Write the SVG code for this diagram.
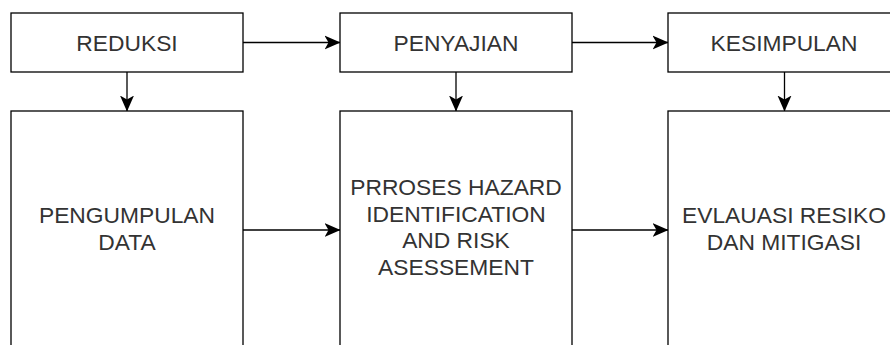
<svg xmlns="http://www.w3.org/2000/svg" width="890" height="345" viewBox="0 0 890 345">
<defs>
<style>
.box{fill:#ffffff;stroke:#000000;stroke-width:1.3}
.lbl{font-family:"Liberation Sans",Arial,Helvetica,sans-serif;font-size:22.8px;fill:#333333;text-anchor:middle}
.edge{fill:none;stroke:#000000;stroke-width:1.3}
</style>
<marker id="arr" markerUnits="userSpaceOnUse" viewBox="0 0 16 16" refX="15.5" refY="8" markerWidth="16" markerHeight="16" orient="auto">
<path d="M0,1 L16,8 L0,15 L4,8 Z" fill="#000000"/>
</marker>
</defs>
<rect width="890" height="345" fill="#ffffff"/>
<g id="connectors">
<line class="edge" x1="243" y1="42.5" x2="340" y2="42.5" marker-end="url(#arr)"/>
<line class="edge" x1="572" y1="42.5" x2="668" y2="42.5" marker-end="url(#arr)"/>
<line class="edge" x1="127" y1="72" x2="127" y2="111" marker-end="url(#arr)"/>
<line class="edge" x1="456" y1="72" x2="456" y2="111" marker-end="url(#arr)"/>
<line class="edge" x1="784.5" y1="72" x2="784.5" y2="111" marker-end="url(#arr)"/>
<line class="edge" x1="243" y1="230" x2="340" y2="230" marker-end="url(#arr)"/>
<line class="edge" x1="572" y1="230" x2="668" y2="230" marker-end="url(#arr)"/>
</g>
<g id="reduksi">
<rect class="box" x="11" y="13" width="232" height="59"/>
<text class="lbl" x="127" y="50.5">REDUKSI</text>
</g>
<g id="penyajian">
<rect class="box" x="340" y="13" width="232" height="59"/>
<text class="lbl" x="456" y="50.5">PENYAJIAN</text>
</g>
<g id="kesimpulan">
<rect class="box" x="668" y="13" width="232" height="59"/>
<text class="lbl" x="784" y="50.5">KESIMPULAN</text>
</g>
<g id="pengumpulan">
<rect class="box" x="11" y="111" width="232" height="238"/>
<text class="lbl" x="127" y="223.3">PENGUMPULAN</text>
<text class="lbl" x="127" y="250">DATA</text>
</g>
<g id="proses">
<rect class="box" x="340" y="111" width="232" height="238"/>
<text class="lbl" x="456" y="195">PRROSES HAZARD</text>
<text class="lbl" x="456" y="221.7">IDENTIFICATION</text>
<text class="lbl" x="456" y="248.4">AND RISK</text>
<text class="lbl" x="456" y="275.1">ASESSEMENT</text>
</g>
<g id="evaluasi">
<rect class="box" x="668" y="111" width="232" height="238"/>
<text class="lbl" x="784" y="223.3">EVLAUASI RESIKO</text>
<text class="lbl" x="784" y="250">DAN MITIGASI</text>
</g>
</svg>
